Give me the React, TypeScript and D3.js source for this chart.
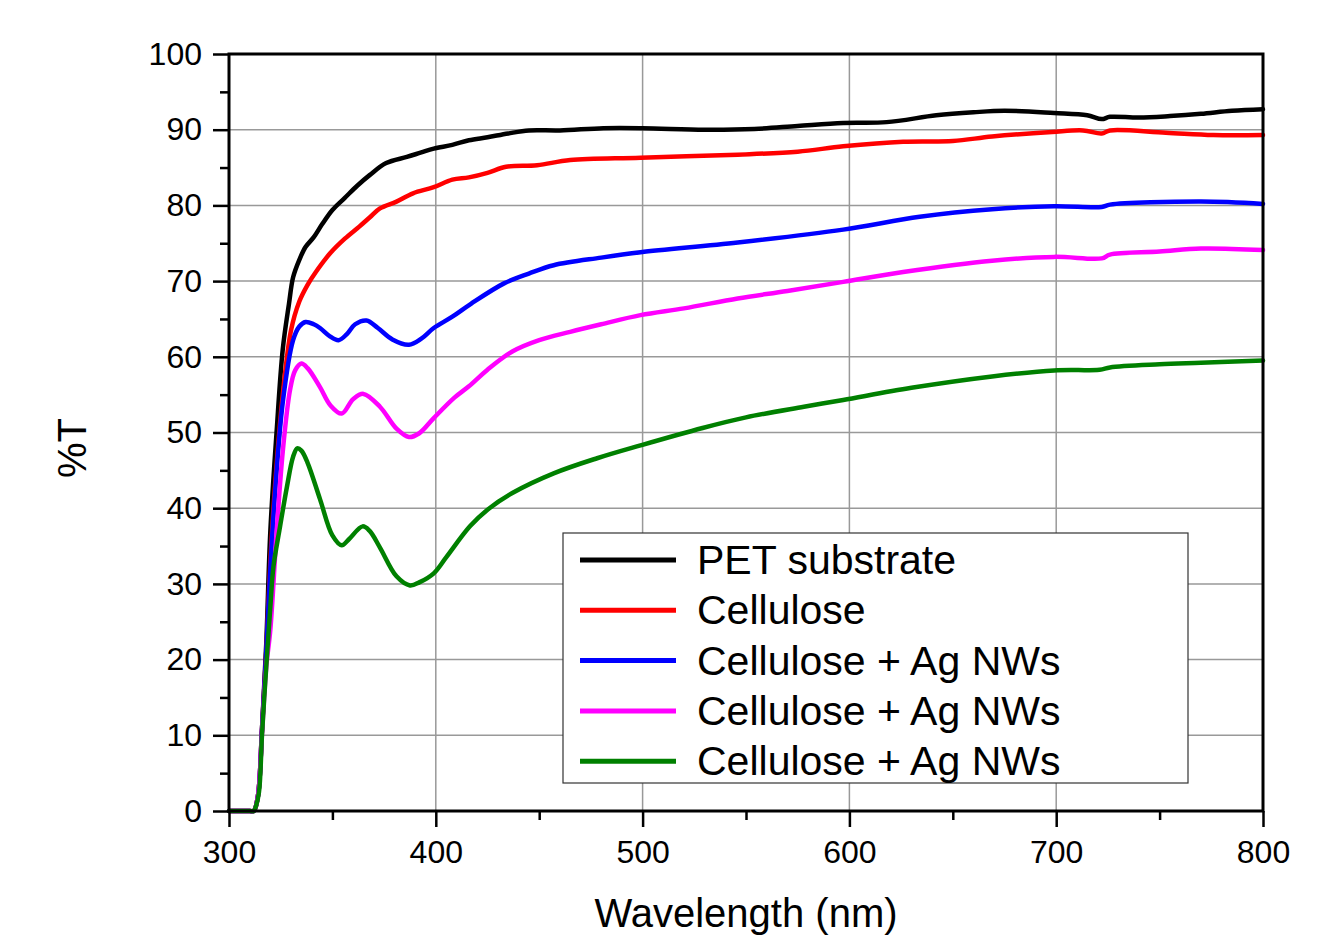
import React, { useEffect, useRef } from 'react';
import * as d3 from 'd3';

// [wavelength nm, %T]
const petSubstrate = [
  [300, 0], [310, 0], [312, 0], [314, 2], [316, 11], [318, 22], [320, 37], [323, 50], [326, 61], [329, 67],
  [331, 70.5], [334, 72.8], [337, 74.5], [341, 75.8], [345, 77.5], [350, 79.4], [356, 81], [362, 82.6],
  [368, 84], [376, 85.6], [386, 86.4], [393, 87], [399, 87.5], [408, 88], [416, 88.6], [425, 89],
  [435, 89.5], [445, 89.9], [460, 89.9], [481, 90.2], [500, 90.2], [530, 90.0], [554, 90.1], [575, 90.5],
  [597, 90.9], [618, 91.0], [642, 91.9], [660, 92.3], [675, 92.5], [699, 92.2], [715, 91.9], [722, 91.4],
  [726, 91.7], [740, 91.6], [755, 91.8], [770, 92.1], [785, 92.5], [800, 92.7],
];

const cellulose = [
  [300, 0], [310, 0], [312, 0], [314, 2], [316, 11], [318, 21], [320, 33], [322, 42], [326, 55], [330, 63.5],
  [334, 67.3], [338, 69.5], [342, 71.2], [349, 73.7], [356, 75.6], [363, 77.2], [368, 78.4], [373, 79.6],
  [381, 80.5], [389, 81.6], [399, 82.4], [408, 83.4], [416, 83.7], [425, 84.3], [434, 85.1], [449, 85.3],
  [465, 86], [499, 86.3], [546, 86.7], [575, 87.1], [597, 87.8], [626, 88.4], [650, 88.5], [669, 89.1],
  [698, 89.7], [713, 89.9], [722, 89.5], [726, 89.9], [753, 89.6], [776, 89.3], [800, 89.3],
];

const agNwsA = [
  [300, 0], [310, 0], [312, 0], [314, 2], [316, 11], [318, 21], [320, 32], [322, 41], [326, 54], [331, 62.2],
  [334, 64], [337, 64.6], [341, 64.3], [344, 63.8], [348.8, 62.7], [353, 62.2], [357, 63.0], [361, 64.3],
  [366.5, 64.8], [372, 63.8], [379, 62.3], [387, 61.6], [393, 62.4], [399, 63.8], [408, 65.3], [417, 67],
  [433, 69.7], [445, 71], [457, 72.1], [480, 73.1], [499, 73.8], [546, 75.1], [597, 76.8], [634, 78.5],
  [669, 79.5], [699, 79.9], [722, 79.8], [726, 80.1], [770, 80.5], [800, 80.2],
];

const agNwsB = [
  [300, 0], [310, 0], [312, 0], [314, 2], [316, 10.5], [318, 19], [320, 24], [323, 36.7], [326, 47.5], [329.5, 55.6],
  [332, 58.2], [335, 59.1], [338, 58.5], [344, 56.0], [349, 53.6], [354.5, 52.5], [360, 54.4], [365, 55.1],
  [373, 53.4], [381, 50.5], [387, 49.4], [392, 49.9], [399, 51.9], [409, 54.6], [416, 56.1], [425, 58.3],
  [437, 60.7], [450, 62.2], [465, 63.3], [480, 64.3], [499, 65.5], [520, 66.4], [546, 67.7], [570, 68.7],
  [597, 69.9], [626, 71.2], [669, 72.7], [699, 73.2], [722, 73.0], [726, 73.5], [750, 73.9], [770, 74.3],
  [800, 74.1],
];

const agNwsC = [
  [300, 0], [310, 0], [312, 0], [313, 0.6], [314.5, 2.5], [316, 10.3], [318, 19], [320, 27], [321.5, 32.3],
  [324.7, 37.6], [328, 42.8], [331, 46.8], [333, 47.9], [335, 47.6], [338, 46.0], [344, 41.2], [350, 36.4],
  [354.5, 35.1], [358, 35.9], [364.6, 37.6], [368, 37.0], [373, 34.8], [381, 31.0], [387.5, 29.8], [392, 30.2],
  [399, 31.4], [405, 33.5], [416.5, 37.6], [425, 39.8], [437, 42], [457, 44.6], [478, 46.6], [499, 48.3],
  [529, 50.6], [550, 52], [578, 53.4], [597, 54.3], [630, 55.9], [669, 57.4], [699, 58.2], [721, 58.3],
  [726, 58.6], [750, 59], [770, 59.2], [800, 59.5],
];

const seriesNames = ['PET substrate', 'Cellulose', 'Cellulose + Ag NWs', 'Cellulose + Ag NWs', 'Cellulose + Ag NWs'];
const seriesColors = ['#000000', '#ff0000', '#0000ff', '#ff00ff', '#008000'];
const seriesData = [petSubstrate, cellulose, agNwsA, agNwsB, agNwsC];

const xTicks = [300, 400, 500, 600, 700, 800];
const xMinorTicks = [350, 450, 550, 650, 750];
const yTicks = [0, 10, 20, 30, 40, 50, 60, 70, 80, 90, 100];
const yMinorTicks = [5, 15, 25, 35, 45, 55, 65, 75, 85, 95];

const FONT = '"Liberation Sans", Arial, sans-serif';

function App() {
  const svgRef = useRef(null);

  useEffect(() => {
    const svg = d3.select(svgRef.current);
    svg.selectAll('*').remove();

    const width = 1342;
    const height = 937;
    const plot = { left: 229, right: 1263, top: 54, bottom: 811 };

    svg.attr('width', width).attr('height', height);

    const x = d3.scaleLinear().domain([300, 800]).range([plot.left, plot.right]);
    const y = d3.scaleLinear().domain([0, 100]).range([plot.bottom, plot.top]);

    // grid
    const grid = svg.append('g').attr('stroke', '#999').attr('stroke-width', 1.5);
    grid.selectAll('.gx')
      .data(xTicks.filter(d => d > 300 && d < 800))
      .join('line')
      .attr('x1', d => x(d)).attr('x2', d => x(d))
      .attr('y1', plot.top).attr('y2', plot.bottom);
    grid.selectAll('.gy')
      .data(yTicks.filter(d => d > 0 && d < 100))
      .join('line')
      .attr('x1', plot.left).attr('x2', plot.right)
      .attr('y1', d => y(d)).attr('y2', d => y(d));

    // curves
    const line = d3.line()
      .x(d => x(d[0]))
      .y(d => y(d[1]))
      .curve(d3.curveCatmullRom.alpha(0.5));

    seriesData.forEach((data, i) => {
      svg.append('path')
        .datum(data)
        .attr('fill', 'none')
        .attr('stroke', seriesColors[i])
        .attr('stroke-width', 4.5)
        .attr('stroke-linejoin', 'round')
        .attr('stroke-linecap', 'round')
        .attr('d', line);
    });

    // frame
    svg.append('rect')
      .attr('x', plot.left).attr('y', plot.top)
      .attr('width', plot.right - plot.left).attr('height', plot.bottom - plot.top)
      .attr('fill', 'none').attr('stroke', '#000').attr('stroke-width', 3);

    // axes
    const styleAxis = g => {
      g.select('.domain').remove();
      g.selectAll('line').attr('stroke', '#000').attr('stroke-width', 2.5);
      g.selectAll('text').attr('font-family', FONT).attr('font-size', 32).attr('fill', '#000');
    };

    svg.append('g')
      .attr('transform', `translate(0,${plot.bottom})`)
      .call(d3.axisBottom(x).tickValues(xTicks).tickSize(16).tickPadding(13).tickFormat(d3.format('d')))
      .call(styleAxis);
    svg.append('g')
      .attr('transform', `translate(0,${plot.bottom})`)
      .call(d3.axisBottom(x).tickValues(xMinorTicks).tickSize(9).tickFormat(() => ''))
      .call(styleAxis);

    svg.append('g')
      .attr('transform', `translate(${plot.left},0)`)
      .call(d3.axisLeft(y).tickValues(yTicks).tickSize(16).tickPadding(11).tickFormat(d3.format('d')))
      .call(styleAxis);
    svg.append('g')
      .attr('transform', `translate(${plot.left},0)`)
      .call(d3.axisLeft(y).tickValues(yMinorTicks).tickSize(9).tickFormat(() => ''))
      .call(styleAxis);

    // axis titles
    svg.append('text')
      .attr('x', (plot.left + plot.right) / 2)
      .attr('y', 927)
      .attr('text-anchor', 'middle')
      .attr('font-family', FONT)
      .attr('font-size', 40)
      .text('Wavelength (nm)');

    svg.append('text')
      .attr('transform', 'translate(86,448) rotate(-90)')
      .attr('text-anchor', 'middle')
      .attr('font-family', FONT)
      .attr('font-size', 40)
      .text('%T');

    // legend
    const legend = svg.append('g');
    legend.append('rect')
      .attr('x', 563).attr('y', 533).attr('width', 625).attr('height', 250)
      .attr('fill', '#fff').attr('stroke', '#333').attr('stroke-width', 1.2);

    seriesNames.forEach((name, i) => {
      const cy = 560 + i * 50.3;
      legend.append('line')
        .attr('x1', 580).attr('x2', 676)
        .attr('y1', cy).attr('y2', cy)
        .attr('stroke', seriesColors[i]).attr('stroke-width', 5);
      legend.append('text')
        .attr('x', 697).attr('y', cy + 14)
        .attr('font-family', FONT)
        .attr('font-size', 41)
        .text(name);
    });
  }, []);

  return <svg ref={svgRef} style={{ position: 'absolute', left: 0, top: 0, display: 'block', background: '#fff' }}></svg>;
}

export default App;
